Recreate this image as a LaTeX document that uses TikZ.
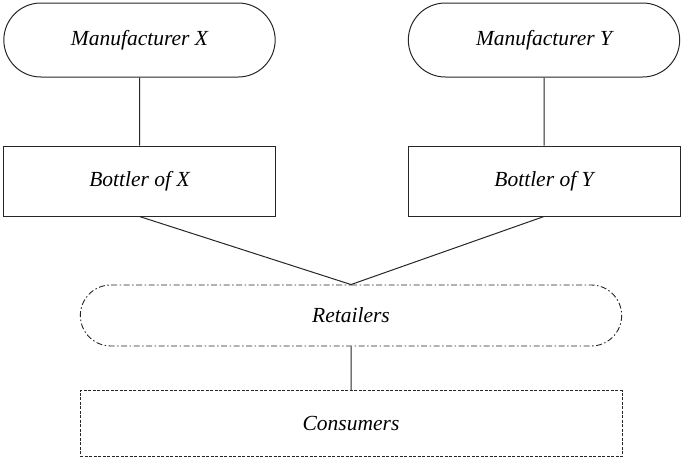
\documentclass[tikz,border=0pt]{standalone}
\usepackage{fontspec}
\setmainfont{Liberation Serif}
\usetikzlibrary{positioning, shapes.misc}

\begin{document}
\begin{tikzpicture}
    [
      x=1pt, y=1pt,
      FIRM/.style={rounded rectangle, draw=black!85, line width=1pt, minimum width=278pt, minimum height=74pt, font=\fontsize{21.5}{25}\selectfont\itshape},
      BOTTLER/.style={rectangle, draw=black!85, line width=1pt, minimum width=272pt, minimum height=70pt, font=\fontsize{21.5}{25}\selectfont\itshape},
      SHOP/.style={rounded rectangle, draw=black!85, line width=0.9pt, dash pattern=on 6pt off 2.5pt on 1.5pt off 2.5pt, minimum width=548pt, minimum height=61pt, font=\fontsize{21.5}{25}\selectfont\itshape},
      BUYER/.style={rectangle, draw=black!85, line width=0.9pt, dash pattern=on 3pt off 1.5pt, minimum width=542pt, minimum height=66pt, font=\fontsize{21.5}{25}\selectfont\itshape},
    ]
    \useasboundingbox (0,0) rectangle (681,-458);

    \node[FIRM] (manufacturerX) at (139.5,-40) {Manufacturer X};
    \node[FIRM] (manufacturerY) at (544,-40) {Manufacturer Y};
    \node[BOTTLER] (bottlerX) [below = 68pt of manufacturerX] {Bottler of X};
    \node[BOTTLER] (bottlerY) [below = 68pt of manufacturerY] {Bottler of Y};
    \node[SHOP] (retailers) at (351,-315.5) {Retailers};
    \node[BUYER] (consumers) [below = 44pt of retailers] {Consumers};

    \draw[ line width = 1pt, black!85] (manufacturerX) to (bottlerX);
    \draw[ line width = 1pt, black!85] (manufacturerY) to (bottlerY);
    \draw[ line width = 1pt, black!85] (bottlerX.south) to (retailers.north);
    \draw[ line width = 1pt, black!85] (bottlerY.south) to (retailers.north);
    \draw[ line width = 1pt, black!85] (retailers) to (consumers);

  \end{tikzpicture}
\end{document}
